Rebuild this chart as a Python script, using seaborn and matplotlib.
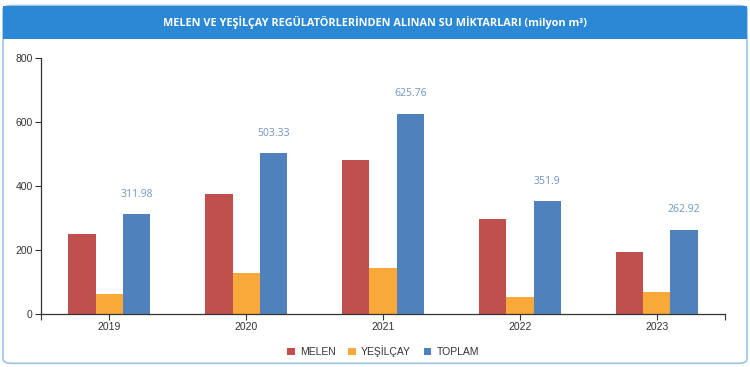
import pandas as pd
import seaborn as sns
import matplotlib.pyplot as plt
from matplotlib.patches import FancyBboxPatch, Rectangle

# data
years = ["2019", "2020", "2021", "2022", "2023"]
melen = [249, 376, 481, 298, 194]
yesilcay = [63, 127, 145, 54, 69]
toplam = [311.98, 503.33, 625.76, 351.9, 262.92]
series = ["MELEN", "YEŞİLÇAY", "TOPLAM"]
colors = ["#c0504d", "#f9a83a", "#4f81bd"]

df = pd.DataFrame({
    "Yıl": years * 3,
    "Seri": [s for s in series for _ in years],
    "Değer": melen + yesilcay + toplam,
})

sns.set_style("ticks")
plt.rcParams["font.family"] = ["Liberation Sans", "DejaVu Sans"]

fig = plt.figure(figsize=(7.5, 3.67), dpi=100)

# card frame + title bar (behind the axes)
fig.patches.append(FancyBboxPatch((0.004, 0.01), 0.992, 0.975, boxstyle="round,pad=0,rounding_size=0.012",
                                  transform=fig.transFigure, facecolor="white", edgecolor="#9cc3e6",
                                  lw=1.2, zorder=-10))
fig.patches.append(Rectangle((0.004, 0.895), 0.992, 0.09, transform=fig.transFigure,
                             facecolor="#2b88d4", edgecolor="none", zorder=-9))
fig.text(0.5, 0.94, "MELEN VE YEŞİLÇAY REGÜLATÖRLERİNDEN ALINAN SU MİKTARLARI (milyon m³)",
         ha="center", va="center", color="white", fontsize=7.8, fontweight="bold",
         family=["Open Sans", "DejaVu Sans"])

ax = fig.add_axes([0.0547, 0.1444, 0.912, 0.6975])
sns.barplot(data=df, x="Yıl", y="Değer", hue="Seri", palette=colors, width=0.6,
            saturation=1, linewidth=0, ax=ax, legend=True)

ax.set_ylim(0, 800)
ax.set_xlim(-0.5, 4.5)
ax.set_yticks([0, 200, 400, 600, 800])
ax.set_xlabel("")
ax.set_ylabel("")
ax.tick_params(axis="both", labelsize=7.5, labelcolor="#333333", color="#333333",
               length=4, width=0.8, direction="out", pad=2)
ax.set_xticks([-0.5, 4.5], minor=True)
ax.tick_params(axis="x", which="minor", length=4, width=0.8, color="#333333")
for s in ["top", "right"]:
    ax.spines[s].set_visible(False)
for s in ["left", "bottom"]:
    ax.spines[s].set_color("#333333")
    ax.spines[s].set_linewidth(0.9)
ax.patch.set_alpha(0)

# value labels on TOPLAM bars
toplam_bars = ax.containers[2]
for bar, v in zip(toplam_bars, toplam):
    ax.text(bar.get_x() + bar.get_width() / 2, v + 45, f"{v:g}", ha="center", va="bottom",
            fontsize=7.5, color="#6f93c4", family=["Open Sans", "DejaVu Sans"])

leg = ax.legend(loc="upper center", bbox_to_anchor=(0.5, -0.085), ncol=3, frameon=False,
                fontsize=7.5, handlelength=0.75, handleheight=0.75, columnspacing=1.2, handletextpad=0.5)
for t in leg.get_texts():
    t.set_color("#333333")

fig.savefig("out.png", dpi=100)
